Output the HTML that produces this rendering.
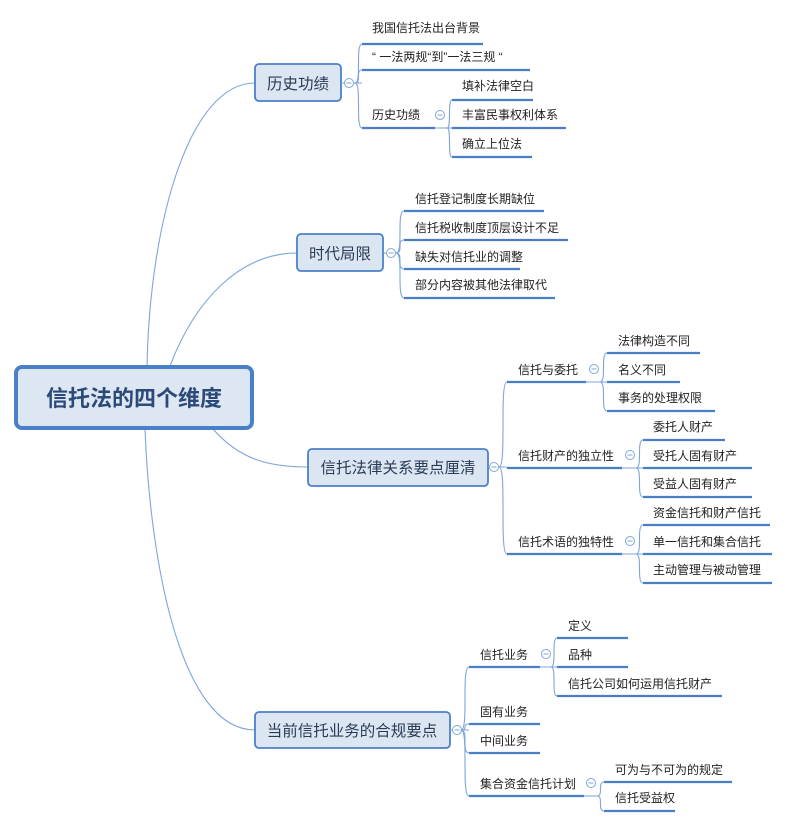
<!DOCTYPE html>
<html><head><meta charset="utf-8"><style>
html,body{margin:0;padding:0;background:#fff;}
svg{display:block;}
text{font-family:"Liberation Sans","Noto Sans CJK SC",sans-serif;fill:#222;}
.l{font-size:12px;}
.m{font-size:15.5px;fill:#2a3b55;}
.ul{stroke:#4a7fc6;stroke-width:2.2;}
.c{stroke:#7ea6da;stroke-width:1.1;fill:none;}
.box{fill:#dce6f3;stroke:#4a80c8;stroke-width:1.8;}
.cir{fill:#fff;stroke:#7ea6da;stroke-width:1;}
</style></head><body>
<svg width="786" height="825" viewBox="0 0 786 825" xmlns="http://www.w3.org/2000/svg">
<!-- root connectors -->
<path class="c" d="M147 366 C150 220 190 83 255 83"/>
<path class="c" d="M170 366 C195 300 240 253 297 253"/>
<path class="c" d="M213 429 C240 460 270 467 308 467"/>
<path class="c" d="M145 429 C150 560 180 730 255 730"/>

<!-- root -->
<rect x="16" y="367" width="236" height="61" rx="6" fill="#dde7f3" stroke="#4a80c8" stroke-width="4"/>
<text x="134" y="406" text-anchor="middle" style="font-size:22px;font-weight:bold;fill:#2c4a78">信托法的四个维度</text>

<!-- 历史功绩 -->
<rect class="box" x="255" y="64" width="86" height="37" rx="4"/>
<text class="m" x="298" y="89" text-anchor="middle">历史功绩</text>
<path class="c" d="M341 83 H362"/>
<path class="c" d="M355 83 C362 83 355 44 362 44"/>
<path class="c" d="M355 83 C362 83 355 70 362 70"/>
<path class="c" d="M355 83 C362 83 355 128 362 128"/>
<circle class="cir" cx="349" cy="83" r="4.5"/><path d="M346.5 83H351.5" stroke="#7ea6da"/>
<line class="ul" x1="362" y1="44" x2="483" y2="44"/><text class="l" x="372" y="32">我国信托法出台背景</text>
<line class="ul" x1="362" y1="70" x2="530" y2="70"/><text class="l" x="372" y="61">“ 一法两规“到”一法三规 “</text>
<line class="ul" x1="362" y1="128" x2="435" y2="128"/><text class="l" x="372" y="119">历史功绩</text>
<path class="c" d="M435 128 H452"/>
<path class="c" d="M447 128 C452 128 447 100 452 100"/>
<path class="c" d="M447 128 C452 128 447 157 452 157"/>
<circle class="cir" cx="440" cy="115" r="4.5"/><path d="M437.5 115H442.5" stroke="#7ea6da"/>
<line class="ul" x1="452" y1="100" x2="533" y2="100"/><text class="l" x="462" y="90">填补法律空白</text>
<line class="ul" x1="452" y1="128" x2="566" y2="128"/><text class="l" x="462" y="119">丰富民事权利体系</text>
<line class="ul" x1="452" y1="157" x2="532" y2="157"/><text class="l" x="462" y="148">确立上位法</text>

<!-- 时代局限 -->
<rect class="box" x="297" y="234" width="86" height="37" rx="4"/>
<text class="m" x="340" y="259" text-anchor="middle">时代局限</text>
<path class="c" d="M383 253 H396"/>
<path class="c" d="M396 253 C404 253 396 211 404 211"/>
<path class="c" d="M396 253 C404 253 396 240 404 240"/>
<path class="c" d="M396 253 C404 253 396 269 404 269"/>
<path class="c" d="M396 253 C404 253 396 298 404 298"/>
<circle class="cir" cx="391" cy="253" r="4.5"/><path d="M388.5 253H393.5" stroke="#7ea6da"/>
<line class="ul" x1="404" y1="211" x2="544" y2="211"/><text class="l" x="415" y="203">信托登记制度长期缺位</text>
<line class="ul" x1="404" y1="240" x2="568" y2="240"/><text class="l" x="415" y="232">信托税收制度顶层设计不足</text>
<line class="ul" x1="404" y1="269" x2="520" y2="269"/><text class="l" x="415" y="261">缺失对信托业的调整</text>
<line class="ul" x1="404" y1="298" x2="555" y2="298"/><text class="l" x="415" y="289">部分内容被其他法律取代</text>

<!-- 信托法律关系要点厘清 -->
<rect class="box" x="308" y="449" width="180" height="37" rx="4"/>
<text class="m" x="398" y="473" text-anchor="middle">信托法律关系要点厘清</text>
<path class="c" d="M488 467 H507"/>
<path class="c" d="M499 467 C507 467 499 382 507 382"/>
<path class="c" d="M499 467 C507 467 499 554 507 554"/>
<circle class="cir" cx="494" cy="467" r="4.5"/><path d="M491.5 467H496.5" stroke="#7ea6da"/>
<line class="ul" x1="507" y1="382" x2="586" y2="382"/><text class="l" x="518" y="374">信托与委托</text>
<line class="ul" x1="507" y1="468" x2="622" y2="468"/><text class="l" x="518" y="460">信托财产的独立性</text>
<line class="ul" x1="507" y1="554" x2="622" y2="554"/><text class="l" x="518" y="546">信托术语的独特性</text>
<path class="c" d="M586 382 H607"/>
<path class="c" d="M600 382 C607 382 600 353 607 353"/>
<path class="c" d="M600 382 C607 382 600 411 607 411"/>
<circle class="cir" cx="594" cy="369" r="4.5"/><path d="M591.5 369H596.5" stroke="#7ea6da"/>
<line class="ul" x1="607" y1="353" x2="700" y2="353"/><text class="l" x="618" y="345">法律构造不同</text>
<line class="ul" x1="607" y1="382" x2="680" y2="382"/><text class="l" x="618" y="374">名义不同</text>
<line class="ul" x1="607" y1="411" x2="715" y2="411"/><text class="l" x="618" y="402">事务的处理权限</text>
<path class="c" d="M622 468 H643"/>
<path class="c" d="M636 468 C643 468 636 440 643 440"/>
<path class="c" d="M636 468 C643 468 636 497 643 497"/>
<circle class="cir" cx="630" cy="455" r="4.5"/><path d="M627.5 455H632.5" stroke="#7ea6da"/>
<line class="ul" x1="643" y1="440" x2="725" y2="440"/><text class="l" x="653" y="431">委托人财产</text>
<line class="ul" x1="643" y1="468" x2="752" y2="468"/><text class="l" x="653" y="460">受托人固有财产</text>
<line class="ul" x1="643" y1="497" x2="752" y2="497"/><text class="l" x="653" y="488">受益人固有财产</text>
<path class="c" d="M622 554 H643"/>
<path class="c" d="M636 554 C643 554 636 525 643 525"/>
<path class="c" d="M636 554 C643 554 636 583 643 583"/>
<circle class="cir" cx="630" cy="541" r="4.5"/><path d="M627.5 541H632.5" stroke="#7ea6da"/>
<line class="ul" x1="643" y1="525" x2="770" y2="525"/><text class="l" x="653" y="517">资金信托和财产信托</text>
<line class="ul" x1="643" y1="554" x2="772" y2="554"/><text class="l" x="653" y="546">单一信托和集合信托</text>
<line class="ul" x1="643" y1="583" x2="772" y2="583"/><text class="l" x="653" y="574">主动管理与被动管理</text>

<!-- 当前信托业务的合规要点 -->
<rect class="box" x="255" y="712" width="195" height="36" rx="4"/>
<text class="m" x="352" y="736" text-anchor="middle">当前信托业务的合规要点</text>
<path class="c" d="M450 730 H469"/>
<path class="c" d="M461 730 C469 730 461 667 469 667"/>
<path class="c" d="M461 730 C469 730 461 724 469 724"/>
<path class="c" d="M461 730 C469 730 461 753 469 753"/>
<path class="c" d="M461 730 C469 730 461 796 469 796"/>
<circle class="cir" cx="457" cy="730" r="4.5"/><path d="M454.5 730H459.5" stroke="#7ea6da"/>
<line class="ul" x1="469" y1="667" x2="540" y2="667"/><text class="l" x="480" y="659">信托业务</text>
<line class="ul" x1="469" y1="724" x2="540" y2="724"/><text class="l" x="480" y="716">固有业务</text>
<line class="ul" x1="469" y1="753" x2="540" y2="753"/><text class="l" x="480" y="745">中间业务</text>
<line class="ul" x1="469" y1="796" x2="584" y2="796"/><text class="l" x="480" y="788">集合资金信托计划</text>
<path class="c" d="M540 667 H557"/>
<path class="c" d="M551 667 C557 667 551 638 557 638"/>
<path class="c" d="M551 667 C557 667 551 696 557 696"/>
<circle class="cir" cx="546" cy="654" r="4.5"/><path d="M543.5 654H548.5" stroke="#7ea6da"/>
<line class="ul" x1="557" y1="638" x2="628" y2="638"/><text class="l" x="568" y="630">定义</text>
<line class="ul" x1="557" y1="667" x2="628" y2="667"/><text class="l" x="568" y="659">品种</text>
<line class="ul" x1="557" y1="696" x2="722" y2="696"/><text class="l" x="568" y="688">信托公司如何运用信托财产</text>
<path class="c" d="M584 796 H597"/>
<path class="c" d="M597 796 C604 796 597 782 604 782"/>
<path class="c" d="M597 796 C604 796 597 811 604 811"/>
<circle class="cir" cx="591" cy="783" r="4.5"/><path d="M588.5 783H593.5" stroke="#7ea6da"/>
<line class="ul" x1="604" y1="782" x2="732" y2="782"/><text class="l" x="615" y="774">可为与不可为的规定</text>
<line class="ul" x1="604" y1="811" x2="675" y2="811"/><text class="l" x="615" y="802">信托受益权</text>
</svg>
</body></html>
